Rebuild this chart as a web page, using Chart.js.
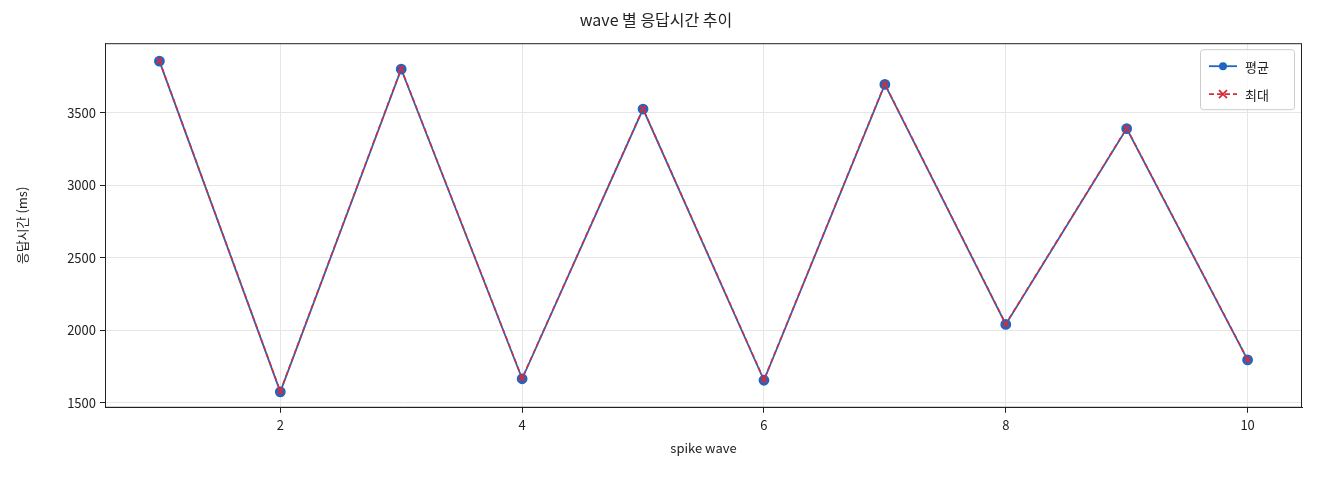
<!DOCTYPE html>
<html><head><meta charset="utf-8">
<script src="https://cdn.jsdelivr.net/npm/chart.js@4/dist/chart.umd.min.js"></script>
<style>body{margin:0;background:#fff}#w{width:1320px;height:480px}</style>
</head><body><div id="w"><canvas id="c"></canvas></div>
<script>
const waves=[1,2,3,4,5,6,7,8,9,10];
const avgVals=[3855,1575,3800,1665,3525,1655,3695,2040,3390,1795];
const maxVals=[3858,1578,3803,1668,3528,1658,3698,2043,3393,1798];
const yTicks=[1500,2000,2500,3000,3500];
const xTicks=[2,4,6,8,10];
const F='"Noto Sans CJK KR","Noto Sans",sans-serif';
Chart.defaults.font.family=F;
const legendPlugin={id:'lg',afterDraw(ch){const c=ch.ctx,a=ch.chartArea;
c.save();c.strokeStyle='#222';c.lineWidth=1;c.strokeRect(a.left+.5,a.top+.5,a.right-a.left-1,a.bottom-a.top-1);
const x=a.right-102,y=a.top+6,w=94,h=60;
c.fillStyle='rgba(255,255,255,0.8)';c.strokeStyle='#ccc';
c.beginPath();c.roundRect(x+.5,y+.5,w,h,3);c.fill();c.stroke();
const items=[['평균','#1f66c1',[],'dot'],['최대','#d62d3a',[5,3],'x']];
items.forEach((it,i)=>{const yy=y+17+i*28;c.strokeStyle=it[1];c.lineWidth=1.8;c.setLineDash(it[2]);
c.beginPath();c.moveTo(x+9,yy);c.lineTo(x+37,yy);c.stroke();c.setLineDash([]);
c.fillStyle=it[1];if(it[3]=='dot'){c.beginPath();c.arc(x+23,yy,4,0,7);c.fill();}else{c.beginPath();c.moveTo(x+19,yy-4);c.lineTo(x+27,yy+4);c.moveTo(x+27,yy-4);c.lineTo(x+19,yy+4);c.stroke();}
c.fillStyle='#222';c.font='13px '+F;c.textBaseline='middle';c.fillText(it[0],x+45,yy+1);});
c.restore();}};
new Chart(document.getElementById('c'),{type:'line',
data:{datasets:[
{label:'평균',order:1,data:waves.map((w,i)=>({x:w,y:avgVals[i]})),borderColor:'#1f66c1',backgroundColor:'#1f66c1',borderWidth:1.8,pointRadius:4.5,pointStyle:'circle',tension:0},
{label:'최대',order:0,data:waves.map((w,i)=>({x:w,y:maxVals[i]})),borderColor:'#d62d3a',backgroundColor:'#d62d3a',borderWidth:1.6,borderDash:[5,3],pointRadius:4,pointStyle:'crossRot',pointBorderWidth:1.8,tension:0}]},
plugins:[legendPlugin],
options:{responsive:true,maintainAspectRatio:false,animation:false,
layout:{padding:{left:10,right:18,top:6,bottom:20}},
plugins:{legend:{display:false},tooltip:{enabled:false},
title:{display:true,text:'wave 별 응답시간 추이',color:'#222',font:{size:16,weight:'normal'},padding:{top:4,bottom:14}}},
scales:{
x:{type:'linear',min:0.55,max:10.45,afterBuildTicks:s=>{s.ticks=xTicks.map(v=>({value:v}))},
grid:{color:'#e6e6e6',drawTicks:true,tickLength:5,tickColor:'#222'},border:{color:'#222'},
ticks:{color:'#222',font:{size:13},padding:4,callback:v=>String(v)},
title:{display:true,text:'spike wave',color:'#222',font:{size:13},padding:{top:4}}},
y:{min:1465,max:3979,afterBuildTicks:s=>{s.ticks=yTicks.map(v=>({value:v}))},afterFit:s=>{s.width=95},
grid:{color:'#e6e6e6',tickLength:5,tickColor:'#222'},border:{color:'#222'},
ticks:{color:'#222',font:{size:13},padding:4,callback:v=>String(v)},
title:{display:true,text:'응답시간 (ms)',color:'#222',font:{size:13},padding:{bottom:6}}}}}});
</script></body></html>
